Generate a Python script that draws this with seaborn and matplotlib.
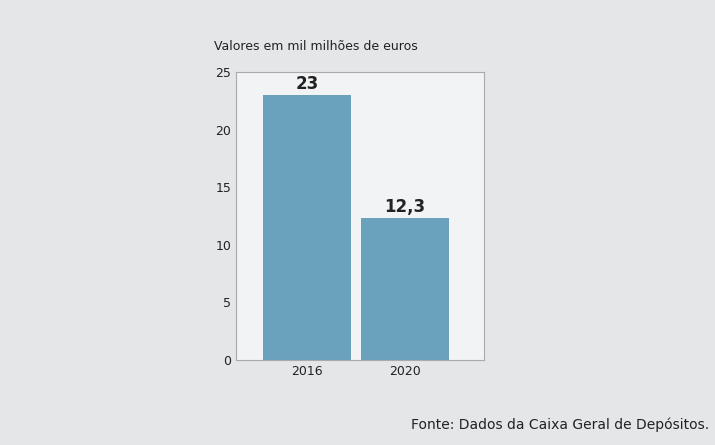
import matplotlib
matplotlib.use("Agg")
import matplotlib.pyplot as plt
import seaborn as sns
import pandas as pd

years = ["2016", "2020"]
values = [23, 12.3]
labels = ["23", "12,3"]

sns.set_style("white")
plt.rcParams['font.family'] = ['DejaVu Sans']
fig = plt.figure(figsize=(7.15, 4.45), dpi=100, facecolor="#e4e6e8")
ax = fig.add_axes([0.330, 0.191, 0.347, 0.647])
ax.set_facecolor((1, 1, 1, 0.55))
df = pd.DataFrame({"ano": years, "v": values})
sns.barplot(data=df, x="ano", y="v", color="#6aa1bd", saturation=1, width=0.89,
            edgecolor="none", linewidth=0, ax=ax)
ax.set_xlim(-0.724, 1.806)
ax.set_ylim(0, 25)
ax.set_yticks([0, 5, 10, 15, 20, 25])
ax.set_xlabel(""); ax.set_ylabel("")
ax.tick_params(labelsize=9, colors="#222222", length=0)
for s in ax.spines.values():
    s.set_color("#aaaaaa"); s.set_linewidth(0.8)
for i, (v, l) in enumerate(zip(values, labels)):
    ax.text(i, v + 0.2, l, ha="center", va="bottom", fontsize=12, fontweight="bold", color="#222222")
fig.text(0.300, 0.888, "Valores em mil milhões de euros", fontsize=9, color="#222222")
fig.text(0.992, 0.035, "Fonte: Dados da Caixa Geral de Depósitos.", fontsize=10, color="#222222", ha="right")
fig.savefig("out.png", dpi=100, facecolor=fig.get_facecolor())
